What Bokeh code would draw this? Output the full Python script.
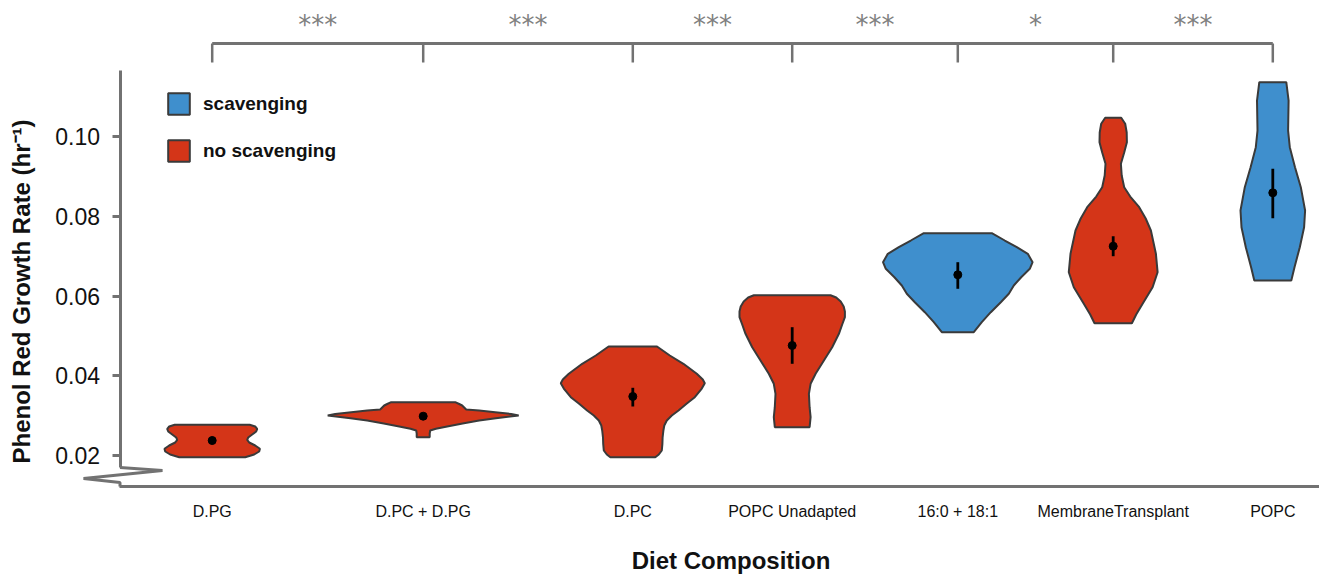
import numpy as np
from bokeh.plotting import figure
from bokeh.models import (Range1d, FixedTicker, NumeralTickFormatter, Title,
                          Legend, LegendItem, ColumnDataSource)
from bokeh.embed import file_html
from bokeh.resources import INLINE
from bokeh.core.properties import value

# ---------------- data ----------------
categories = ["D.PG", "D.PC + D.PG", "D.PC", "POPC Unadapted", "16:0 + 18:1",
              "MembraneTransplant", "POPC"]
positions = [0.917, 3.027, 5.123, 6.717, 8.373, 9.927, 11.523]
scavenging = [False, False, False, False, True, False, True]

means = [0.02376, 0.02986, 0.03480, 0.04759, 0.06532, 0.07249, 0.08588]
err_lo = [0.02285, 0.02940, 0.03229, 0.04300, 0.06181, 0.06998, 0.07951]
err_hi = [0.02470, 0.03030, 0.03698, 0.05218, 0.06848, 0.07500, 0.09190]

significance = ["***", "***", "***", "***", "*", "***"]
y_ticks = [0.02, 0.04, 0.06, 0.08, 0.10]

# violin profiles: growth rate levels and density half-widths
dpg_y = [0.02770, 0.02727, 0.02670, 0.02602, 0.02527, 0.02451, 0.02394, 0.02326,
         0.02251, 0.02168, 0.02100, 0.02025, 0.01957]
dpg_w = [0.375, 0.43, 0.45, 0.44, 0.40, 0.36, 0.35, 0.37, 0.43, 0.477, 0.47, 0.42, 0.33]

dpcdpg_y = [0.03337, 0.03292, 0.03254, 0.03204, 0.03154, 0.03129, 0.03086, 0.03041,
            0.03003, 0.02935, 0.02878, 0.02803, 0.02727, 0.02670, 0.02627, 0.02552, 0.02459]
dpcdpg_w = [0.32, 0.36, 0.39, 0.41, 0.43, 0.56, 0.72, 0.88, 0.955, 0.727, 0.56, 0.394,
            0.24, 0.127, 0.07, 0.065, 0.065]

dpc_y = [0.04734, 0.04508, 0.04300, 0.04049, 0.03906, 0.03813, 0.03680, 0.03462, 0.03304,
         0.03129, 0.03003, 0.02878, 0.02752, 0.02627, 0.02451, 0.02293, 0.02125, 0.02025, 0.01957]
dpc_w = [0.242, 0.37, 0.506, 0.64, 0.70, 0.72, 0.69, 0.62, 0.54, 0.457, 0.39, 0.34, 0.315,
         0.306, 0.298, 0.296, 0.29, 0.26, 0.225]

popcu_y = [0.06020, 0.05962, 0.05862, 0.05737, 0.05611, 0.05468, 0.05285, 0.05052, 0.04716,
           0.04382, 0.04049, 0.03798, 0.03547, 0.03211, 0.02961, 0.02710]
popcu_w = [0.383, 0.44, 0.485, 0.515, 0.527, 0.527, 0.50, 0.467, 0.40, 0.317, 0.234, 0.184,
           0.167, 0.174, 0.184, 0.174]

c16_y = [0.07575, 0.07392, 0.07224, 0.07058, 0.06848, 0.06682, 0.06471, 0.06263, 0.06055,
         0.05845, 0.05594, 0.05343, 0.05092]
c16_w = [0.34, 0.47, 0.59, 0.70, 0.748, 0.72, 0.634, 0.56, 0.51, 0.43, 0.33, 0.24, 0.16]

mt_y = [0.10469, 0.10319, 0.10100, 0.09857, 0.09599, 0.09315, 0.09022, 0.08729, 0.08495,
        0.08227, 0.07944, 0.07643, 0.07058, 0.06597, 0.06221, 0.05804, 0.05536, 0.05318]
mt_w = [0.08, 0.12, 0.135, 0.137, 0.11, 0.077, 0.085, 0.11, 0.17, 0.26, 0.325, 0.377, 0.427,
        0.444, 0.394, 0.294, 0.23, 0.187]

popc_y = [0.11362, 0.10903, 0.10150, 0.09732, 0.09230, 0.08729, 0.08144, 0.07725, 0.07224,
          0.06722, 0.06389]
popc_w = [0.135, 0.158, 0.153, 0.17, 0.222, 0.28, 0.323, 0.313, 0.27, 0.217, 0.185]

violin_y = [dpg_y, dpcdpg_y, dpc_y, popcu_y, c16_y, mt_y, popc_y]
violin_w = [dpg_w, dpcdpg_w, dpc_w, popcu_w, c16_w, mt_w, popc_w]

x_title = "Diet Composition"
y_title = "Phenol Red Growth Rate (hr\u207b\u00b9)"

# ---------------- styling ----------------
BLUE = "#3F8FCD"
RED = "#D43518"
GREY = "#727272"
FONT = "Liberation Sans"
TXT = "#111111"
Y_AXIS_AT = 0.012226   # where the horizontal axis line sits

p = figure(width=1319, height=574, output_backend="svg", toolbar_location=None,
           x_range=Range1d(-0.86, 11.99), y_range=Range1d(-0.009843, 0.13411),
           min_border_left=34, min_border_right=0, min_border_top=0,
           min_border_bottom=0)
p.outline_line_color = None
p.xgrid.visible = False
p.ygrid.visible = False

# violins, split by group
groups = {True: dict(xs=[], ys=[]), False: dict(xs=[], ys=[])}
for c, vy, vw, s in zip(positions, violin_y, violin_w, scavenging):
    vy = np.asarray(vy)
    vw = np.asarray(vw)
    groups[s]["xs"].append(list(np.concatenate([c - vw, (c + vw)[::-1]])))
    groups[s]["ys"].append(list(np.concatenate([vy, vy[::-1]])))
r_scav = p.patches("xs", "ys", source=ColumnDataSource(groups[True]), fill_color=BLUE,
                   line_color="#3a3a3a", line_width=2)
r_noscav = p.patches("xs", "ys", source=ColumnDataSource(groups[False]), fill_color=RED,
                     line_color="#3a3a3a", line_width=2)

# mean +/- error
p.segment(x0=positions, y0=err_lo, x1=positions, y1=err_hi, line_color="black", line_width=2.8)
p.scatter(x=positions, y=means, size=8, color="black")

# significance brackets
yb_top, yb_bot = 0.12332, 0.11856
p.segment(x0=[positions[0]], y0=[yb_top], x1=[positions[-1]], y1=[yb_top],
          line_color=GREY, line_width=3)
p.segment(x0=positions, y0=[yb_top] * len(positions), x1=positions,
          y1=[yb_bot] * len(positions), line_color=GREY, line_width=2.5)
mids = [(a + b) / 2 for a, b in zip(positions[:-1], positions[1:])]
p.text(x=mids, y=[0.12794] * len(mids), text=significance, text_align="center",
       text_baseline="alphabetic", text_font=value("DejaVu Sans"),
       text_font_size="26px", text_color="#808080")

# legend
legend = Legend(items=[LegendItem(label="scavenging", renderers=[r_scav]),
                       LegendItem(label="no scavenging", renderers=[r_noscav])],
                location=(131, 410), orientation="vertical", glyph_width=27, glyph_height=27,
                spacing=20, padding=0, margin=0, border_line_color=None,
                background_fill_alpha=0, label_text_font=FONT, label_text_font_style="bold",
                label_text_font_size="19px", label_standoff=11, label_text_color=TXT)
p.add_layout(legend)

# x axis (fixed above the bottom edge, leaving room for the title below it)
xa = p.xaxis[0]
xa.fixed_location = Y_AXIS_AT
xa.ticker = FixedTicker(ticks=positions)
xa.major_label_overrides = {pos: cat for pos, cat in zip(positions, categories)}
xa.bounds = (-0.01, 11.99)
xa.major_tick_in = 0
xa.major_tick_out = 0
xa.minor_tick_line_color = None
xa.axis_line_color = GREY
xa.axis_line_width = 3
xa.major_label_standoff = 16
xa.major_label_text_font = FONT
xa.major_label_text_font_size = "16px"
xa.major_label_text_color = TXT

p.text(x=[6.105], y=[-0.006232], text=[x_title], text_align="center",
       text_baseline="alphabetic", text_font=value(FONT), text_font_style="bold",
       text_font_size="24px", text_color=TXT)

# y axis (placed at the data-region edge so the break can reach further left)
ya = p.yaxis[0]
ya.fixed_location = -0.005
ya.ticker = FixedTicker(ticks=y_ticks)
ya.formatter = NumeralTickFormatter(format="0.00")
ya.bounds = (0.01699, 0.11655)
ya.axis_line_color = GREY
ya.axis_line_width = 3
ya.major_tick_line_color = GREY
ya.major_tick_line_width = 3
ya.major_tick_in = 0
ya.major_tick_out = 8
ya.minor_tick_line_color = None
ya.major_label_standoff = 12
ya.major_label_text_font = FONT
ya.major_label_text_font_size = "23px"
ya.major_label_text_color = TXT

p.add_layout(Title(text=y_title, align="left", offset=111, text_font=FONT,
                   text_font_style="bold", text_font_size="24px", text_color=TXT,
                   standoff=0), "left")

# axis break zigzag
zx = [-0.005, 0.42, -0.37, -0.005, -0.005]
zy = [0.01699, 0.016238, 0.014232, 0.013229, Y_AXIS_AT]
p.line(zx, zy, line_color=GREY, line_width=3, line_join="bevel")

open("out.html", "w").write(file_html(p, INLINE))
